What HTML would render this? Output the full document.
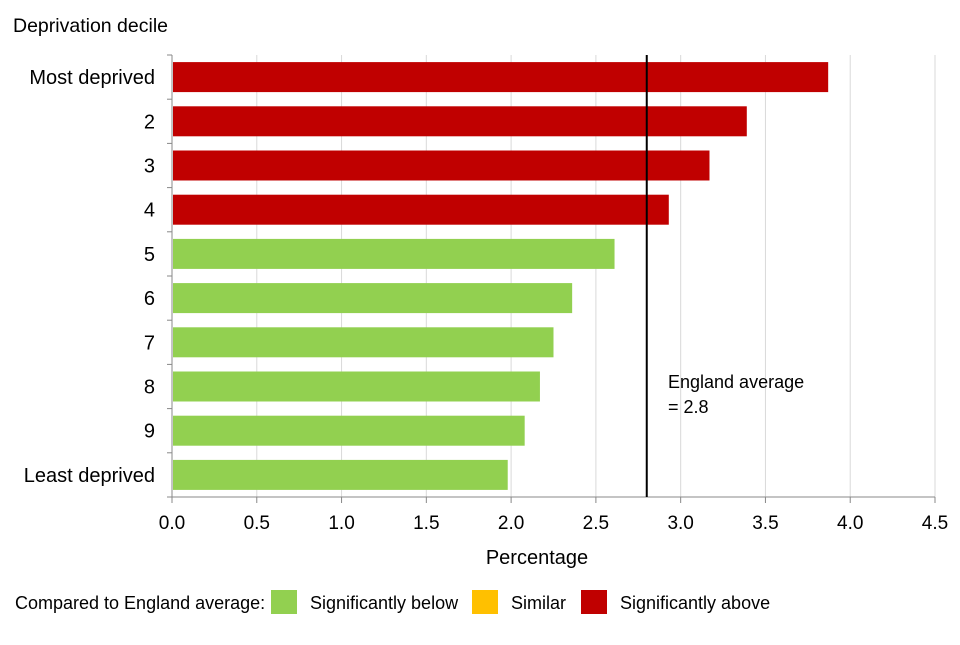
<!DOCTYPE html>
<html><head><meta charset="utf-8"><style>
body{margin:0;background:#fff;font-family:"Liberation Sans",Arial,sans-serif;}
svg text{font-family:"Liberation Sans",Arial,sans-serif;fill:#000;}
</style></head><body>
<svg id="chart" width="960" height="640">
<text x="13" y="32" font-size="19.5">Deprivation decile</text>
<g id="grid"></g><g id="bars"></g><g id="axes"></g>
<text x="537" y="564" font-size="20" text-anchor="middle">Percentage</text>
<text x="668" y="388" font-size="18">England average</text>
<text x="668" y="413" font-size="18">= 2.8</text>
<g>
<text x="15" y="609" font-size="18">Compared to England average:</text>
<rect x="271" y="590" width="26" height="24" fill="#92d050"/>
<text x="310" y="609" font-size="18">Significantly below</text>
<rect x="472" y="590" width="26" height="24" fill="#ffc000"/>
<text x="511" y="609" font-size="18">Similar</text>
<rect x="581" y="590" width="26" height="24" fill="#c00000"/>
<text x="620" y="609" font-size="18">Significantly above</text>
</g>
</svg>
<script>
const categories=["Most deprived","2","3","4","5","6","7","8","9","Least deprived"];
const values=[3.87,3.39,3.17,2.93,2.61,2.36,2.25,2.17,2.08,1.98];
const significance=["above","above","above","above","below","below","below","below","below","below"];
const xTicks=[0,0.5,1,1.5,2,2.5,3,3.5,4,4.5];
const xTickLabels=["0.0","0.5","1.0","1.5","2.0","2.5","3.0","3.5","4.0","4.5"];
const englandAverage=2.8;
const NS="http://www.w3.org/2000/svg";
const x0=172,x1=935,yTop=55,yBot=497,xMax=4.5;
const xs=v=>x0+v/xMax*(x1-x0);
const band=(yBot-yTop)/categories.length;
const colors={above:"#c00000",below:"#92d050",similar:"#ffc000"};
function mk(tag,attrs,parent){const e=document.createElementNS(NS,tag);for(const k in attrs)e.setAttribute(k,attrs[k]);parent.appendChild(e);return e;}
const grid=document.getElementById('grid'),bars=document.getElementById('bars'),axes=document.getElementById('axes');
xTicks.forEach((t,i)=>{
 if(t>0){const g=mk('line',{x1:xs(t),x2:xs(t),y1:yTop,y2:yBot,stroke:'#d9d9d9','stroke-width':1},grid);
 
 }
 const tk=mk('line',{x1:xs(t),x2:xs(t),y1:yBot,y2:yBot+6,stroke:'#888'},axes);
 
 
 const tl=mk('text',{x:xs(t),y:529,'font-size':19,'text-anchor':'middle'},axes);tl.textContent=xTickLabels[i];
 
 
});
categories.forEach((c,i)=>{
 const yc=yTop+band*(i+0.5);
 const r=mk('rect',{x:x0+1,y:yc-15,width:xs(values[i])-x0-1,height:30,fill:colors[significance[i]]},bars);
 
 
 const l=mk('text',{x:155,y:yc+7,'font-size':20,'text-anchor':'end'},axes);l.textContent=c;
 
 
});
for(let i=0;i<=categories.length;i++){const y=yTop+band*i;
 const t=mk('line',{x1:x0-5,x2:x0,y1:y,y2:y,stroke:'#888'},axes);
 
 }
const ya=mk('line',{x1:x0,x2:x0,y1:yTop,y2:yBot,stroke:'#888'},axes);


const xa=mk('line',{x1:x0,x2:x1,y1:yBot,y2:yBot,stroke:'#888'},axes);


const av=mk('line',{x1:xs(englandAverage),x2:xs(englandAverage),y1:yTop,y2:yBot,stroke:'#000','stroke-width':2},axes);


</script>
</body></html>
